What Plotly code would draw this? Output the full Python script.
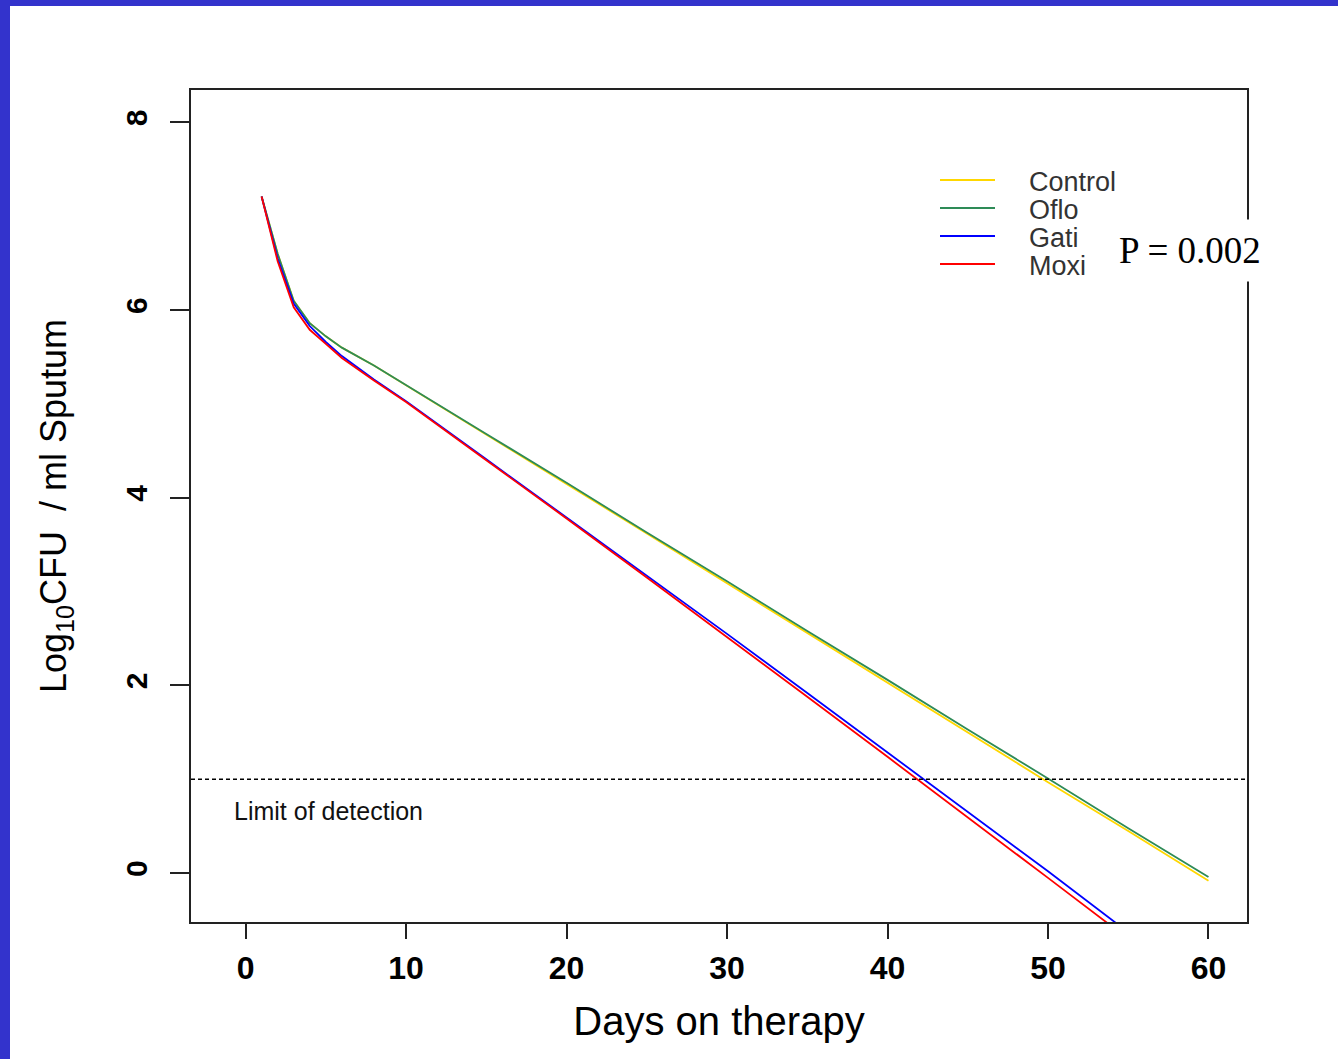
import plotly.graph_objects as go

# ---- data ----
days = [1, 2, 3, 4, 5, 6, 8, 10, 15, 20, 25, 30, 35, 40, 45, 50, 55, 60]
control = [7.21, 6.60, 6.10, 5.86, 5.72, 5.60, 5.41, 5.20, 4.67, 4.15, 3.62, 3.09, 2.56, 2.03, 1.50, 0.97, 0.45, -0.08]
oflo = [7.21, 6.60, 6.10, 5.86, 5.72, 5.60, 5.41, 5.20, 4.68, 4.16, 3.63, 3.11, 2.58, 2.06, 1.53, 1.01, 0.48, -0.04]
gati = [7.21, 6.55, 6.07, 5.83, 5.66, 5.51, 5.26, 5.03, 4.41, 3.79, 3.17, 2.55, 1.92, 1.29, 0.65, 0.02, -0.63, -1.28]
moxi = [7.21, 6.52, 6.03, 5.79, 5.64, 5.49, 5.25, 5.02, 4.40, 3.78, 3.15, 2.52, 1.88, 1.24, 0.60, -0.05, -0.70, -1.35]

series_names = ["Control", "Oflo", "Gati", "Moxi"]
series_values = [control, oflo, gati, moxi]
series_colors = ["#FFD700", "#2E8B57", "#0000FF", "#FF0000"]

x_ticks = [0, 10, 20, 30, 40, 50, 60]
y_ticks = [0, 2, 4, 6, 8]
detection_limit = 1.0

# ---- layout geometry ----
W, H = 1338, 1059
L, R, T, B = 191, 1247, 90, 922
PW, PH = R - L, B - T


def xp(px):
    return (px - L) / PW


def yp(py):
    return (B - py) / PH


fig = go.Figure()
for name, vals, col in zip(series_names, series_values, series_colors):
    fig.add_trace(go.Scatter(x=days, y=vals, mode="lines", name=name,
                             line=dict(color=col, width=1.8), showlegend=False))

shapes = []
# limit of detection line
shapes.append(dict(type="line", xref="paper", yref="y", x0=0, x1=1,
                   y0=detection_limit, y1=detection_limit,
                   line=dict(color="black", width=1.5, dash="4px,3px")))
# blue slide frame (left and top bars)
frame_col = "#3333CC"
shapes.append(dict(type="rect", xref="paper", yref="paper", layer="above",
                   x0=xp(0), x1=xp(10), y0=yp(H), y1=yp(0),
                   fillcolor=frame_col, line=dict(width=0)))
shapes.append(dict(type="rect", xref="paper", yref="paper", layer="above",
                   x0=xp(0), x1=xp(W), y0=yp(6), y1=yp(0),
                   fillcolor=frame_col, line=dict(width=0)))

annotations = []
# manual legend
leg_y = [180, 208, 236, 264]
for name, col, ly in zip(series_names, series_colors, leg_y):
    shapes.append(dict(type="line", xref="paper", yref="paper",
                       x0=xp(940), x1=xp(995), y0=yp(ly), y1=yp(ly),
                       line=dict(color=col, width=1.8)))
    annotations.append(dict(xref="paper", yref="paper", x=xp(1027), y=yp(ly + 2),
                            text=name, showarrow=False, xanchor="left", yanchor="middle",
                            font=dict(family="Liberation Sans, Arial", size=27, color="#333333")))

# P value box
annotations.append(dict(xref="paper", yref="paper", x=xp(1190), y=yp(250),
                        text="P = 0.002", showarrow=False, xanchor="center", yanchor="middle",
                        bgcolor="white", borderpad=10,
                        font=dict(family="Liberation Serif, Times New Roman", size=37, color="black")))

# limit of detection label
annotations.append(dict(xref="paper", yref="paper", x=xp(232), y=yp(811),
                        text="Limit of detection", showarrow=False, xanchor="left", yanchor="middle",
                        font=dict(family="Liberation Sans, Arial", size=25, color="#111111")))

fig.update_layout(
    width=W, height=H,
    margin=dict(l=L, r=W - R, t=T, b=H - B, pad=0),
    paper_bgcolor="white", plot_bgcolor="white",
    shapes=shapes, annotations=annotations,
    xaxis=dict(range=[-3.4, 62.4], tickvals=x_ticks, ticktext=[str(v) for v in x_ticks],
               showgrid=False, zeroline=False, showline=True, linecolor="#222222", linewidth=2,
               mirror=True, ticks="outside", ticklen=15, tickwidth=2, tickcolor="#222222",
               ticklabelstandoff=2,
               tickfont=dict(family="Liberation Sans, Arial", size=32, color="black", weight="bold"),
               title=dict(text="Days on therapy", standoff=22,
                          font=dict(family="Liberation Sans, Arial", size=40, color="black"))),
    yaxis=dict(range=[-0.52, 8.345], tickvals=y_ticks, ticktext=[str(v) for v in y_ticks],
               showgrid=False, zeroline=False, showline=True, linecolor="#222222", linewidth=2,
               mirror=True, ticks="outside", ticklen=19, tickwidth=2, tickcolor="#222222",
               tickangle=-90, ticklabelstandoff=11,
               tickfont=dict(family="Liberation Sans, Arial", size=30, color="black", weight="bold"),
               title=dict(text="Log<sub>10</sub>CFU&nbsp; / ml Sputum", standoff=42,
                          font=dict(family="Liberation Sans, Arial", size=36, color="black"))),
)

fig.write_html("out.html", config={"displayModeBar": False},
               post_script="document.body.style.margin='0';document.body.style.overflow='hidden';")
